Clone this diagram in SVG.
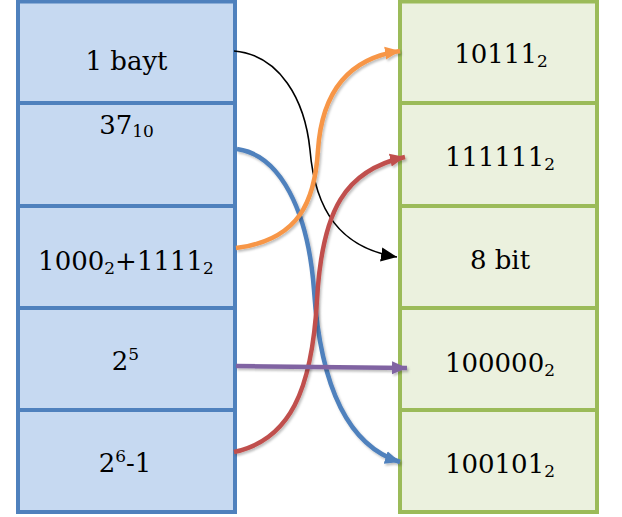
<svg xmlns="http://www.w3.org/2000/svg" width="622" height="517" viewBox="0 0 622 517">
<style>
.lb{fill:#C6D9F1;stroke:#4F81BD;stroke-width:4}
.rb{fill:#EBF1DE;stroke:#9BBB59;stroke-width:4}
text{font-family:"DejaVu Serif",serif;font-size:26px;fill:#000;text-anchor:middle}
.s{font-size:17px}
.c{fill:none;stroke-width:4.5}
</style>
<defs>
<filter id="sh" filterUnits="userSpaceOnUse" x="0" y="0" width="622" height="517">
<feDropShadow dx="1.5" dy="2" stdDeviation="1.2" flood-color="#000" flood-opacity="0.25"/>
</filter>
<marker id="mk" markerUnits="userSpaceOnUse" markerWidth="20" markerHeight="20" refX="16" refY="7" orient="auto" viewBox="0 0 20 14"><path d="M0,0 L16,7 L0,14 Z" fill="#000"/></marker>
<marker id="mo" markerUnits="userSpaceOnUse" markerWidth="20" markerHeight="20" refX="15" refY="6.5" orient="auto" viewBox="0 0 20 13"><path d="M0,0 L15,6.5 L0,13 Z" fill="#F79646"/></marker>
<marker id="mb" markerUnits="userSpaceOnUse" markerWidth="20" markerHeight="20" refX="15" refY="6.5" orient="auto" viewBox="0 0 20 13"><path d="M0,0 L15,6.5 L0,13 Z" fill="#4F81BD"/></marker>
<marker id="mr" markerUnits="userSpaceOnUse" markerWidth="20" markerHeight="20" refX="15" refY="6.5" orient="auto" viewBox="0 0 20 13"><path d="M0,0 L15,6.5 L0,13 Z" fill="#C0504D"/></marker>
<marker id="mp" markerUnits="userSpaceOnUse" markerWidth="20" markerHeight="20" refX="15" refY="6.5" orient="auto" viewBox="0 0 20 13"><path d="M0,0 L15,6.5 L0,13 Z" fill="#8064A2"/></marker>
</defs>
<g id="left-1"><rect class="lb" x="18" y="1.5" width="217" height="101.5"/><text x="126.5" y="70">1 bayt</text></g>
<g id="left-2"><rect class="lb" x="18" y="103" width="217" height="103"/><text x="126.5" y="134">37<tspan class="s" dy="3">10</tspan></text></g>
<g id="left-3"><rect class="lb" x="18" y="206" width="217" height="102"/><text x="126" y="270">1000<tspan class="s" dy="4">2</tspan><tspan dy="-4">+1111</tspan><tspan class="s" dy="4">2</tspan></text></g>
<g id="left-4"><rect class="lb" x="18" y="308" width="217" height="102"/><text x="125.5" y="370">2<tspan class="s" dy="-10">5</tspan></text></g>
<g id="left-5"><rect class="lb" x="18" y="410" width="217" height="102"/><text x="125" y="472">2<tspan class="s" dy="-10">6</tspan><tspan dy="10">-1</tspan></text></g>
<g id="right-1"><rect class="rb" x="400" y="1.5" width="197" height="101.5"/><text x="501" y="63">10111<tspan class="s" dy="4">2</tspan></text></g>
<g id="right-2"><rect class="rb" x="400" y="103" width="197" height="103"/><text x="500" y="166">111111<tspan class="s" dy="4">2</tspan></text></g>
<g id="right-3"><rect class="rb" x="400" y="206" width="197" height="102"/><text x="500" y="269">8 bit</text></g>
<g id="right-4"><rect class="rb" x="400" y="308" width="197" height="102"/><text x="500" y="372">100000<tspan class="s" dy="4">2</tspan></text></g>
<g id="right-5"><rect class="rb" x="400" y="410" width="197" height="102"/><text x="500" y="473">100101<tspan class="s" dy="4">2</tspan></text></g>
<g id="connectors">
<path d="M234,51 C280,55 305,100 310,150 C315,210 340,248 397,257" fill="none" stroke="#000" stroke-width="1.6" marker-end="url(#mk)"/>
<path class="c" d="M237,149 C280,155 308,210 314,290 C320,380 345,445 400,462" stroke="#4F81BD" marker-end="url(#mb)" filter="url(#sh)"/>
<path class="c" d="M236,248 C300,240 315,200 318,150 C322,90 350,58 400,51" stroke="#F79646" marker-end="url(#mo)" filter="url(#sh)"/>
<path class="c" d="M234,452 C290,440 312,390 317,300 C322,210 345,170 405,157" stroke="#C0504D" marker-end="url(#mr)" filter="url(#sh)"/>
<path class="c" d="M236,366 L407,368" stroke="#8064A2" marker-end="url(#mp)" filter="url(#sh)"/>
</g>
</svg>
